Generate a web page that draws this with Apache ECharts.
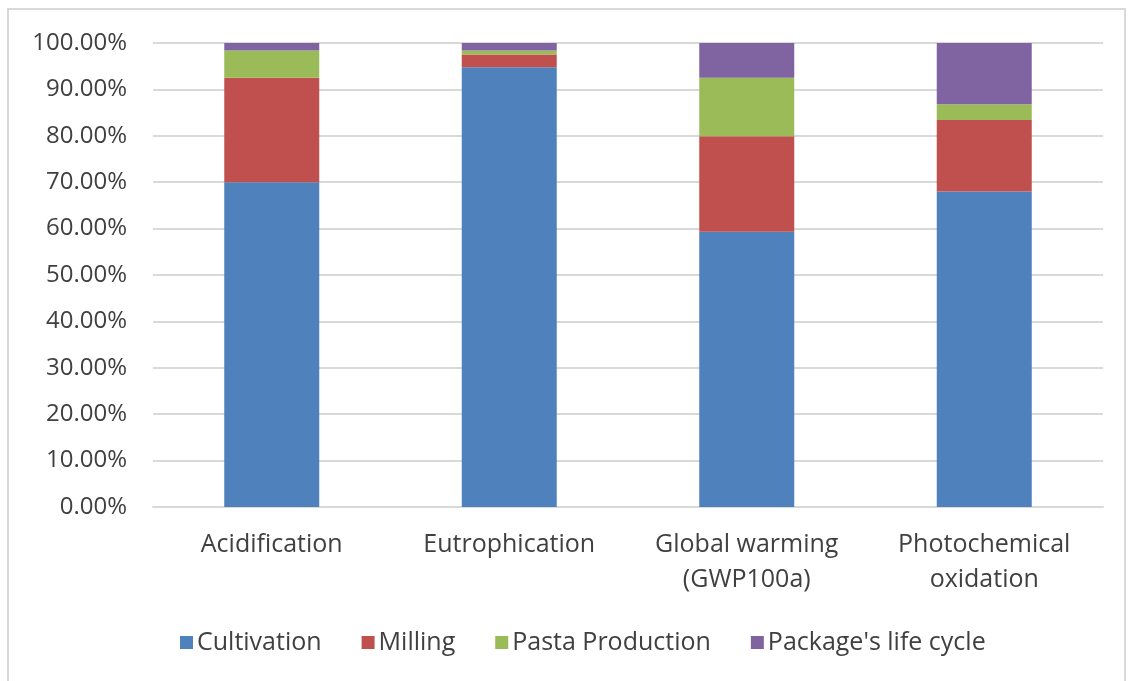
<!DOCTYPE html>
<html>
<head>
<meta charset="utf-8">
<script src="https://cdn.jsdelivr.net/npm/echarts@6/dist/echarts.min.js"></script>
<style>
  html, body { margin: 0; padding: 0; background: #ffffff; }
  #frame { position: absolute; left: 7px; top: 8px; width: 1119px; height: 700px; border: 2px solid #d9d9d9; box-sizing: border-box; }
  #chart { position: absolute; left: 0; top: 0; width: 1131px; height: 681px; }
</style>
</head>
<body>
<div id="frame"></div>
<div id="chart"></div>
<script>
const categories = ['Acidification', 'Eutrophication', 'Global warming\n(GWP100a)', 'Photochemical\noxidation'];
const cultivation = [70.0, 94.8, 59.3, 68.0];
const milling = [22.5, 2.7, 20.6, 15.4];
const pastaProduction = [5.9, 0.9, 12.6, 3.4];
const packageLifeCycle = [1.6, 1.6, 7.5, 13.2];
const yTicks = [0, 10, 20, 30, 40, 50, 60, 70, 80, 90, 100];

const seriesNames = ['Cultivation', 'Milling', 'Pasta Production', "Package's life cycle"];
const seriesData = [cultivation, milling, pastaProduction, packageLifeCycle];
const colors = ['#4F81BD', '#C0504D', '#9BBB59', '#8064A2'];

const chart = echarts.init(document.getElementById('chart'), null, { renderer: 'canvas' });
const textColor = '#404040';
const fontFamily = '"Open Sans", sans-serif';

chart.setOption({
  animation: false,
  backgroundColor: 'transparent',
  color: colors,
  grid: { left: 153, right: 28, top: 43, bottom: 174, containLabel: false },
  legend: {
    left: 175, top: 625,
    icon: 'rect', itemWidth: 13, itemHeight: 13, itemGap: 40,
    textStyle: { color: textColor, fontSize: 25, fontFamily: fontFamily, padding: [0, 0, 0, -1] },
    data: seriesNames
  },
  xAxis: {
    type: 'category',
    data: categories,
    axisLine: { lineStyle: { color: '#d9d9d9', width: 2 } },
    axisTick: { show: false },
    axisLabel: { interval: 0, color: textColor, fontSize: 25, fontFamily: fontFamily, lineHeight: 35, margin: 20 }
  },
  yAxis: {
    type: 'value',
    min: yTicks[0], max: yTicks[yTicks.length - 1], interval: 10,
    axisLine: { show: false },
    axisTick: { show: false },
    splitLine: { lineStyle: { color: '#d9d9d9', width: 2 } },
    axisLabel: { color: textColor, fontSize: 24, fontFamily: fontFamily, margin: 26, formatter: v => v.toFixed(2) + '%' }
  },
  series: seriesNames.map((name, i) => ({
    name: name,
    type: 'bar',
    stack: 'total',
    barWidth: '40%',
    data: seriesData[i],
    itemStyle: { color: colors[i] }
  }))
});
</script>
</body>
</html>
